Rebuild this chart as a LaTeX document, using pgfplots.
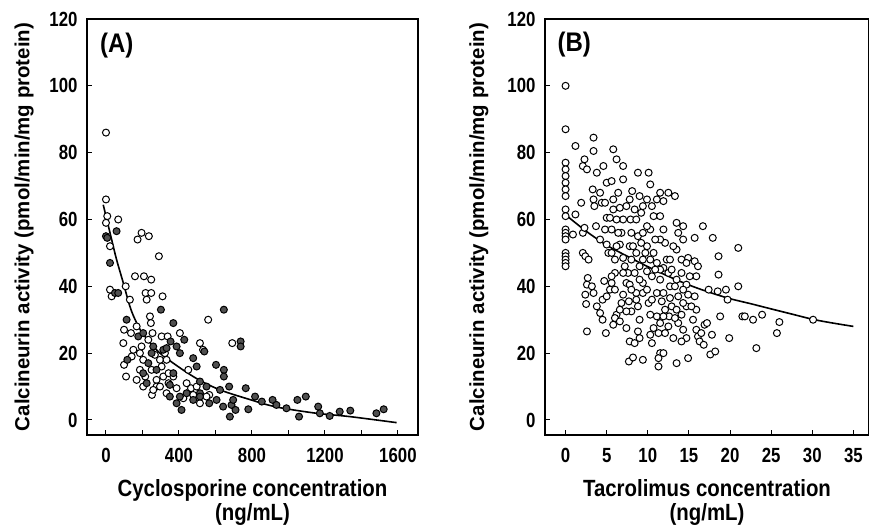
\documentclass[border=0pt]{standalone}
\usepackage{fontspec}
\setmainfont{Liberation Sans}
\usepackage{graphicx}
\usepackage{pgfplots}
\usepackage{pgfplotstable}
\pgfplotsset{compat=1.18}
\definecolor{Dot}{HTML}{505050}

% Panel A: cyclosporine
\pgfplotstableread{
x y
0 86
0 66
7 61
0 59
67 60
22 52
22 39
31 37
108 40
131 36
173 54
195 56
235 55
290 49
159 43
208 43
248 42
217 38
223 36
248 38
310 37
241 31
246 29
255 26
305 25
338 25
99 27
95 23
137 26
168 28
99 16.5
110 13
141 19
195 22
204 18
186 15
215 13
250 15
277 12
277 10
305 16
323 20
252 7.5
332 8
405 26
424 6.5
451 15
466 9.5
478 7.5
515 23
532 21
515 5
560 30
566 7.5
692 23
369 13
387 9.5
314 13
343 11
150 21
186 20
232 24
268 19.5
296 18
332 18
168 12
259 9
296 10
442 11
497 10
551 7
343 14
204 10
}\cyaopen

\pgfplotstableread{
x y
0 55
7 54.5
58 56.5
22 47
49 38
67 38
113 30
117 18
177 25
204 26
301 33
369 29
354 23.5
387 22
405 20
429 24
478 18.5
497 16
515 11.5
539 20.5
646 33
603 16.5
646 15
646 13
738 23.5
738 22
675 10
766 9.5
625 9
606 6
642 4
679 1
688 4.5
697 6
710 3
780 3.2
817 7
854 5.5
913 6
934 4.5
989 3.5
1049 6
1058 1
1095 7
1163 4
1172 2
1226 1.2
1281 2.5
1339 2.8
1482 2
1522 3.2
414 3
277 15
350 10.5
442 8
515 8
566 5
551 10
259 22
314 21
332 21.5
369 14
204 14
223 11
232 17
250 20
515 7
478 6
350 7
405 7
387 5
}\cyafill

\pgfplotstableread{
x y
-15 64.4
0 61
31 54
58 48
95 41
131 34
160 30
200 26
296 20
478 13
625 9
807 5.8
880 4.6
971 3.5
1154 2
1337 1
1593 -0.8
}\cyafit

% Panel B: tacrolimus
\pgfplotstableread{
x y
0 100
0 87
0 77
0 75
0 73
0 71
0 69
0 67
0 63
0 61
0 57
0 56
0 55
0 54
0 50
0 49
0 48
0 47
0 46
1.2 82
2.1 76
2.3 78
2.6 75
3.4 80.5
3.4 84.5
1.9 65
1.2 61.5
0.9 55.5
2.1 56
2.3 57.5
2.1 50
2.4 49
2.8 48
2.6 26.5
2.7 42.5
2.6 40.5
2.4 37.5
2.5 34.7
3.2 40
3.4 38
3.8 34
4.2 32
4.5 30
4.9 26
4.7 41.6
4.5 36
5 37
5.4 39
5.6 41
3.3 69
3.4 66
3.5 64
3.8 74
4.2 68
4.6 76
4.4 65
3.7 58
4.2 54
4.8 65
5 60.5
4.8 57
5 71
5.6 71.5
5.8 81
6.2 78
7 76
7 72
6.4 68
6.6 63.5
5.8 63
5.4 60.5
5.6 57
5 52.5
5.2 50
6 48
6 44
5.6 43
6 39
6.2 31.5
6 30.5
5.8 28.5
6.6 33
6.6 29.5
7 37.5
7.4 41
7.2 46
7 48.5
6.6 52.5
6.8 56
7 60
7.4 64
7.8 66
8.1 68.5
7.9 60
8 56
7.8 52
8 48
7.6 44
7.8 40.5
7.7 35.5
7.4 27.5
7.8 23.5
7.7 17.5
8.2 18.7
8.4 23
8 32.5
8.6 38
8.8 34
9 30
8.8 26.5
9 24.5
9.4 18
8.8 55
8.8 74
9 67
9.2 62
9.4 56
9.9 52
10.1 74
10.3 70.5
10.5 64
10.7 61
11.1 66
11.5 68
11.9 65.5
12.5 68
13.3 67
11.5 61
11.9 57
12.1 53
11.5 54
10.3 57
9.7 50
10.3 48
10.5 43
9.9 44.5
9.4 41
9.4 38
10.1 35
10.3 31.5
10.3 25.5
10.5 23
10.7 27.5
11.1 31
11.5 29
11.3 26
11.5 20
11.3 18.5
11.3 16
11.9 20
11.1 38
11.5 42
11.9 45.5
12.3 48
12.5 44
12.7 40
12.7 36.5
12.9 34
12.6 31
12.5 28
13.1 24.5
13.5 17
13.7 29
13.5 33
13.7 37
13.5 42
13.5 51
13.1 52
13.7 56
14.3 58
13.5 59
14.3 54
14.1 48
14.9 48.5
14.7 47
14.1 44
14.7 40.5
14.9 37.5
14.7 34
14.1 31.5
14.3 27
14.7 24.5
14.1 23.5
14.9 18.5
15.5 30
15.7 37
15.9 33
15.9 27
16.1 25
16.3 23.5
16.5 26
16.9 28.5
17.2 29
16.8 22.5
15.7 47.5
16.1 46
15.9 43
15.7 54.5
16.7 58
17.9 54.5
18.6 49
17.4 39
18.6 43.5
18.5 38.5
17.8 25.5
17.6 19.6
18.2 20.5
18.8 31
19.5 39
19.7 36
19.9 24.5
21 40
21 51.5
21.5 31
21.8 31
22.8 30
23.2 21.5
23.9 31.5
25.7 26
26 29.3
30.1 30
8.4 63
8.6 60
9.4 64
9.9 66
8.6 50
9 46
8.4 44
9 42
8 39
9.4 48
10.7 50
11.1 47
11.5 45
10.9 45
11.9 38
12.1 33
11.7 35.5
7 44
6.8 35
7.4 32.5
9.9 39
10.5 36
8.6 36
5.6 50
6.2 52
6.4 56
6.2 60
5.8 66
8.2 52
9.2 53
9.9 58
10.9 54
12.7 48
12.9 45
13.3 40
14.3 39
15.1 43
15.3 34
14.3 35
13.3 30.5
11.9 31
12.1 26
}\tacopen

\pgfplotstableread{
x y
0 61.4
2.5 56.5
5 52.3
7.5 49
9.9 46
12.5 43
15.1 40.3
17.5 38.2
20 36.3
22.5 34.8
24.9 33.3
27.5 31.7
30.1 30.1
32.5 29
35 28
}\tacfit

% the scanned figure is stretched vertically a little
\newcommand{\tall}[2][1.15]{\scalebox{1}[#1]{#2}}

\pgfplotsset{
  every axis/.append style={
    scale only axis,
    height=416pt,
    ymin=-4.5, ymax=120,
    ytick={0,20,...,120},
    tick pos=left,
    tick align=inside,
    major tick length=5pt,
    minor tick length=5pt,
    axis line style={line width=1.2pt},
    tick style={line width=1pt, black},
    /pgf/number format/assume math mode=true,
    /pgf/number format/1000 sep={},
    xticklabel={\tall[1.22]{\pgfmathprintnumber{\tick}}},
    yticklabel={\tall[1.22]{\pgfmathprintnumber{\tick}}},
    tick label style={font=\bfseries\fontsize{16.8}{20}\selectfont},
    yticklabel style={xshift=-6pt},
    xticklabel style={yshift=-10pt},
    label style={font=\bfseries\fontsize{20.4}{23.5}\selectfont},
    xlabel style={align=center, inner sep=0pt,
      at={(axis description cs:0.5,-0.107)}, anchor=north},
    ylabel={Calcineurin activity (pmol/min/mg protein)},
  },
  openmk/.style={only marks, mark=*, mark size=3.5pt,
    mark options={fill=white, draw=black, line width=1pt}},
  fillmk/.style={only marks, mark=*, mark size=3.5pt,
    mark options={fill=Dot, draw=black, line width=1pt}},
  fitline/.style={black, line width=1.6pt, smooth, no marks},
}

\begin{document}
\begin{tikzpicture}[x=1pt,y=1pt]
  \useasboundingbox (0,0) rectangle (869,525);
  \begin{axis}[
      at={(87pt,90pt)}, anchor=south west,
      width=331pt,
      xmin=-104, xmax=1710,
      xtick={0,400,...,1600},
      minor xtick={200,600,...,1400},
      xlabel={\tall{Cyclosporine concentration}\\\tall{(ng/mL)}},
      ylabel style={at={(axis description cs:-0.19,0.5)}, anchor=center},
    ]
    \addplot[openmk] table {\cyaopen};
    \addplot[fillmk] table {\cyafill};
    \addplot[fitline] table {\cyafit};
    \node[font=\bfseries\fontsize{24}{26}\selectfont] at (rel axis cs:0.09,0.935) {\tall[1.12]{(A)}};
  \end{axis}
  \begin{axis}[
      at={(545pt,90pt)}, anchor=south west,
      width=324pt,
      xmin=-2.5, xmax=36.9,
      xtick={0,5,...,35},
      xlabel={\tall{Tacrolimus concentration}\\\tall{(ng/mL)}},
      ylabel style={at={(axis description cs:-0.204,0.5)}, anchor=center},
    ]
    \addplot[openmk] table {\tacopen};
    \addplot[fitline] table {\tacfit};
    \node[font=\bfseries\fontsize{24}{26}\selectfont] at (rel axis cs:0.09,0.9375) {\tall[1.12]{(B)}};
  \end{axis}
\end{tikzpicture}
\end{document}
